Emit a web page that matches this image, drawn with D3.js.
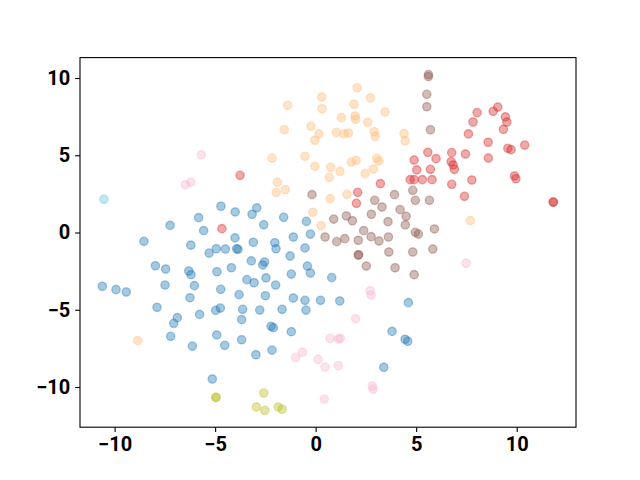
<!DOCTYPE html>
<html>
<head>
<meta charset="utf-8">
<script src="https://cdn.jsdelivr.net/npm/d3@7"></script>
<style>
  html, body { margin: 0; padding: 0; background: #fff; }
  svg { display: block; }
  .tick text { font-family: Roboto, "Liberation Sans", Arial, sans-serif; font-weight: bold; font-size: 20px; fill: #000; }
</style>
</head>
<body>
<svg id="chart" width="640" height="480"></svg>
<script>
// Category names (class labels 0..6)
const categories = ["0", "1", "2", "3", "4", "5", "6"];
// tab20 colours selected for 7 classes
const categoryColors = ["#1f77b4", "#ffbb78", "#d62728", "#8c564b", "#f7b6d2", "#bcbd22", "#9edae5"];

// Class 0 (blue)
const x0 = [-4.71,-4.0,-5.82,-7.24,-5.57,-4.01,-8.54,-6.21,-5.30,-4.94,-4.49,-3.93,-3.86,-7.97,-7.46,-6.31,-6.2,-4.91,-4.19,-3.42,-3.2,-10.61,-9.93,-9.42,-7.49,-6.03,-4.72,-3.81,-6.25,-7.89,-4.97,-4.74,-3.63,-3.68,-5.77,-6.88,-7.06,-7.21,-6.13,-4.92,-4.52,-3.68,-5.14,
  -2.93,-3.16,-2.58,-1.59,-0.46,-0.26,-1.11,-3.10,-2.03,
  -1.97,-0.53,-1.27,-2.63,-2.54,-0.41,-0.26,-1.21,0.80,-3.06,-2.47,-1.99,-2.50,-1.11,-0.53,0.24,1.20,-2.78,-1.67,-0.48,-2.22,-2.10,-1.21,-2.17,-2.97,4.61,3.80,4.45,4.58,3.39];
const y0 = [1.70,1.33,0.96,0.46,0.12,-0.35,-0.57,-0.82,-1.33,-1.05,-1.07,-1.05,-1.09,-2.15,-2.36,-2.49,-2.73,-2.54,-2.28,-3.05,-1.84,-3.48,-3.70,-3.85,-3.40,-3.44,-3.68,-4.02,-4.22,-4.84,-5.04,-4.89,-4.97,-5.64,-5.30,-5.51,-5.88,-6.72,-7.35,-6.63,-7.30,-6.94,-9.48,
  1.59,1.18,0.50,0.98,0.72,-0.10,-0.29,-0.63,-0.66,
  -1.05,-1.0,-1.52,-2.10,-1.91,-2.17,-2.62,-2.69,-2.92,-3.25,-2.94,-3.40,-4.09,-4.24,-4.39,-4.39,-4.43,-5.02,-4.97,-5.02,-6.07,-6.16,-6.42,-7.61,-7.91,-4.54,-6.40,-6.91,-7.04,-8.72];

// Class 1 (light orange)
const x1 = [2.06,0.30,2.72,-1.39,1.91,0.32,3.45,1.28,1.96,1.98,2.59,-0.23,-1.56,0.17,-0.04,1.03,1.41,1.63,2.91,2.96,4.40,4.45,-2.17,-0.53,-0.04,0.75,1.21,0.68,1.78,2.02,2.46,2.87,3.04,3.15,-1.90,-1.96,-1.51,0.72,1.56,-0.14,0.27,7.70,-8.85];
const y1 = [9.37,8.77,8.71,8.23,8.30,8.01,7.80,7.43,7.54,7.33,7.13,6.87,6.65,6.38,5.97,6.48,6.38,6.44,6.52,6.23,6.40,5.94,4.82,4.93,4.28,4.22,3.96,3.57,4.56,4.67,3.81,4.11,4.80,4.63,3.25,2.60,2.77,2.19,2.47,1.31,0.44,0.77,-7.0];

// Class 2 (red)
const x2 = [-3.76,-4.66,3.22,2.09,2.03,8.03,8.83,9.06,7.83,9.44,9.51,9.34,7.60,8.58,9.56,9.72,10.40,8.59,7.45,6.77,5.58,5.99,4.90,6.74,6.84,6.90,5.71,5.03,4.70,4.90,5.31,5.79,6.77,7.77,9.89,9.96,7.40,11.81,11.83];
const y2 = [3.70,0.25,3.16,2.60,1.89,7.76,7.84,8.12,7.15,7.48,7.15,6.68,6.38,5.84,5.45,5.36,5.66,4.82,5.08,5.17,5.19,4.78,4.69,4.58,4.37,4.09,4.09,4.05,3.42,3.42,3.42,3.42,3.12,3.40,3.66,3.48,2.34,1.97,1.97];

// Class 3 (brown)
const x3 = [-0.18,3.92,2.94,3.30,4.20,4.50,4.46,2.77,3.60,0.90,1.53,1.83,2.39,0.47,1.45,1.05,2.12,2.76,3.15,3.62,5.61,5.61,5.53,5.53,5.71,4.83,4.96,5.66,4.96,5.11,5.91,3.64,2.12,2.14,2.52,3.95,4.83,5.83,4.90];
const y3 = [2.45,2.45,2.08,1.65,1.48,1.05,0.49,1.18,0.70,0.87,1.07,0.76,0.12,-0.29,-0.40,-0.59,-0.50,-0.27,-0.55,-0.29,10.22,10.09,8.94,8.14,6.65,2.73,2.08,2.08,0.01,-0.10,0.23,-1.26,-1.46,-1.44,-2.17,-2.28,-1.26,-1.07,-2.73];

// Class 4 (pink)
const x4 = [-5.69,-6.48,-6.21,7.48,2.71,2.76,1.99,0.72,1.13,1.23,-0.66,-0.99,0.12,0.47,1.13,2.82,2.86,0.43];
const y4 = [5.02,3.09,3.25,-1.99,-3.77,-4.05,-5.58,-6.85,-6.89,-6.85,-7.75,-8.08,-8.21,-8.71,-8.62,-9.94,-10.15,-10.78];

// Class 5 (olive)
const x5 = [-4.97,-4.95,-2.58,-2.95,-2.53,-1.86,-1.67];
const y5 = [-10.67,-10.67,-10.39,-11.29,-11.51,-11.29,-11.44];

// Class 6 (light cyan) - two coincident samples
const x6 = [-10.53, -10.53];
const y6 = [2.15, 2.15];

const xTicks = [-10, -5, 0, 5, 10];
const yTicks = [-10, -5, 0, 5, 10];
const xDomain = [-11.72, 12.95];
const yDomain = [-12.6, 11.32];

const xs = [x0, x1, x2, x3, x4, x5, x6];
const ys = [y0, y1, y2, y3, y4, y5, y6];
const points = [];
categories.forEach((c, i) => {
  xs[i].forEach((xv, j) => points.push({ cat: i, x: xv, y: ys[i][j] }));
});

const W = 640, H = 480;
const mLeft = 80, mRight = 576, mTop = 57.6, mBottom = 427.2;

const svg = d3.select("#chart");
const x = d3.scaleLinear().domain(xDomain).range([mLeft, mRight]);
const y = d3.scaleLinear().domain(yDomain).range([mBottom, mTop]);
const color = d3.scaleOrdinal().domain(d3.range(categories.length)).range(categoryColors);

svg.append("rect").attr("width", W).attr("height", H).attr("fill", "#fff");

svg.append("g").selectAll("circle").data(points).join("circle")
  .attr("cx", d => x(d.x))
  .attr("cy", d => y(d.y))
  .attr("r", 4.17)
  .attr("fill", d => color(d.cat))
  .attr("fill-opacity", 0.4)
  .attr("stroke", d => color(d.cat))
  .attr("stroke-opacity", 0.4)
  .attr("stroke-width", 1.3);

const tickLen = 4.86, tickPad = 4.86;
const fmt = d3.format("");
const gx = svg.append("g").attr("transform", `translate(0,${mBottom})`)
  .call(d3.axisBottom(x).tickValues(xTicks).tickFormat(fmt).tickSize(tickLen).tickPadding(tickPad));
const gy = svg.append("g").attr("transform", `translate(${mLeft},0)`)
  .call(d3.axisLeft(y).tickValues(yTicks).tickFormat(fmt).tickSize(tickLen).tickPadding(tickPad));
[gx, gy].forEach(g => {
  g.select(".domain").remove();
  g.selectAll(".tick line").attr("stroke", "#000").attr("stroke-width", 1.1);
  g.attr("font-family", null).attr("font-size", null);
});

svg.append("rect")
  .attr("x", mLeft).attr("y", mTop)
  .attr("width", mRight - mLeft).attr("height", mBottom - mTop)
  .attr("fill", "none").attr("stroke", "#000").attr("stroke-width", 1.1);
</script>
</body>
</html>
